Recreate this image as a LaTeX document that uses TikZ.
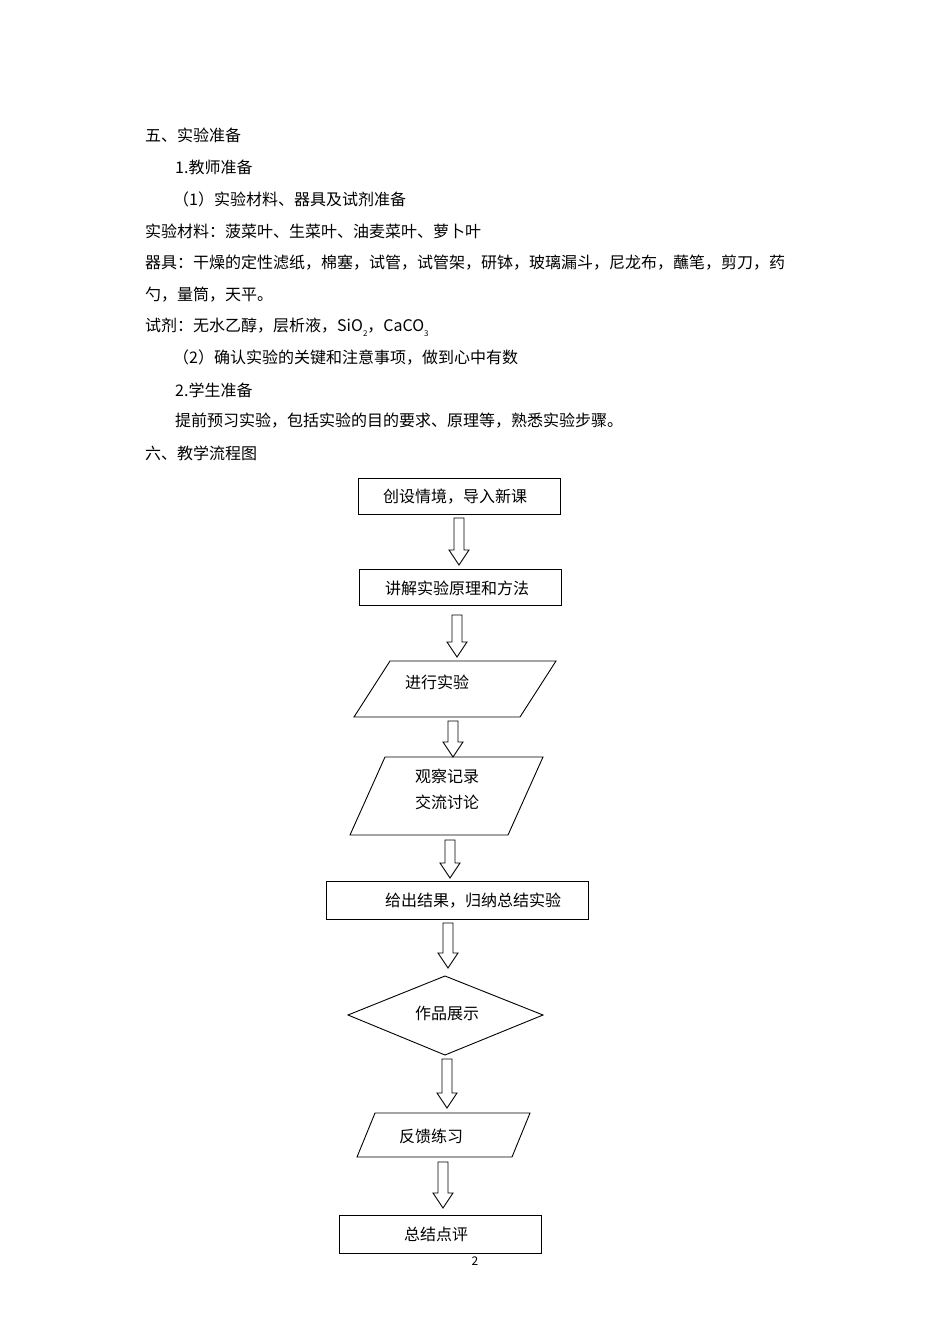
\documentclass[tikz,border=0pt]{standalone}
\usepackage{fontspec}
\setmainfont{Noto Sans CJK SC}
\usetikzlibrary{shapes.geometric}
\newcommand\fatarrow[3]{% x, ytop, ybot
  \draw[line width=0.9pt] (#1-5,-#2) -- (#1+5,-#2) -- (#1+5,-#3+15) -- (#1+10,-#3+15) -- (#1,-#3) -- (#1-10,-#3+15) -- (#1-5,-#3+15) -- cycle;}
\begin{document}
\begin{tikzpicture}[x=1pt,y=1pt,
  txt/.style={anchor=west,inner sep=0pt,font=\fontsize{16}{19}\selectfont},
  lbl/.style={inner sep=0pt,font=\fontsize{16}{26}\selectfont,align=center},
  shp/.style={line width=0.9pt}]
\useasboundingbox (0,0) rectangle (950,-1344);
\node[txt] (t1) at (145,-135) {五、实验准备};
\node[txt] (t2) at (175,-167) {1.教师准备};
\node[txt] (t3) at (173,-199) {（1）实验材料、器具及试剂准备};
\node[txt] (t4) at (145,-231) {实验材料：菠菜叶、生菜叶、油麦菜叶、萝卜叶};
\node[txt,text width=662pt,align=justify] (t5) at (145,-263) {器具：干燥的定性滤纸，棉塞，试管，试管架，研钵，玻璃漏斗，尼龙布，蘸笔，剪刀，药};
\node[txt] (t6) at (145,-295) {勺，量筒，天平。};
\node[txt] (t7) at (145,-327) {试剂：无水乙醇，层析液，SiO\raisebox{-5pt}{\fontsize{8}{8}\selectfont 2}，CaCO\raisebox{-5pt}{\fontsize{8}{8}\selectfont 3}};
\node[txt] (t8) at (173,-358) {（2）确认实验的关键和注意事项，做到心中有数};
\node[txt] (t9) at (175,-390) {2.学生准备};
\node[txt] (t10) at (175,-421) {提前预习实验，包括实验的目的要求、原理等，熟悉实验步骤。};
\node[txt] (t11) at (145,-453) {六、教学流程图};
% boxes
\draw[shp] (358,-478) rectangle (560,-514);
\node[lbl] (b1) at (455,-497) {创设情境，导入新课};
\fatarrow{459}{518}{565}
\draw[shp] (359,-569) rectangle (561,-605);
\node[lbl] (b2) at (457,-588) {讲解实验原理和方法};
\fatarrow{457}{615}{657}
\draw[shp] (390,-661) -- (556,-661) -- (520,-717) -- (354,-717) -- cycle;
\node[lbl] (b3) at (437,-682) {进行实验};
\fatarrow{453}{721}{757}
\draw[shp] (385,-757) -- (543,-757) -- (508,-835) -- (350,-835) -- cycle;
\node[lbl] (b4) at (447,-789) {观察记录\\交流讨论};
\fatarrow{450}{840}{878}
\draw[shp] (326,-881) rectangle (588,-919);
\node[lbl] (b5) at (473,-901) {给出结果，归纳总结实验};
\fatarrow{448}{923}{968}
\draw[shp] (348,-1015) -- (445,-976) -- (543,-1015) -- (445,-1055) -- cycle;
\node[lbl] (b6) at (447,-1013) {作品展示};
\fatarrow{447}{1059}{1108}
\draw[shp] (375,-1113) -- (530,-1113) -- (512,-1157) -- (357,-1157) -- cycle;
\node[lbl] (b7) at (431,-1136) {反馈练习};
\fatarrow{443}{1162}{1208}
\draw[shp] (339,-1215) rectangle (541,-1253);
\node[lbl] (b8) at (436,-1234) {总结点评};
\node[inner sep=0pt,font=\fontsize{12}{12}\selectfont] (pg) at (475,-1261) {2};
\end{tikzpicture}
\end{document}
